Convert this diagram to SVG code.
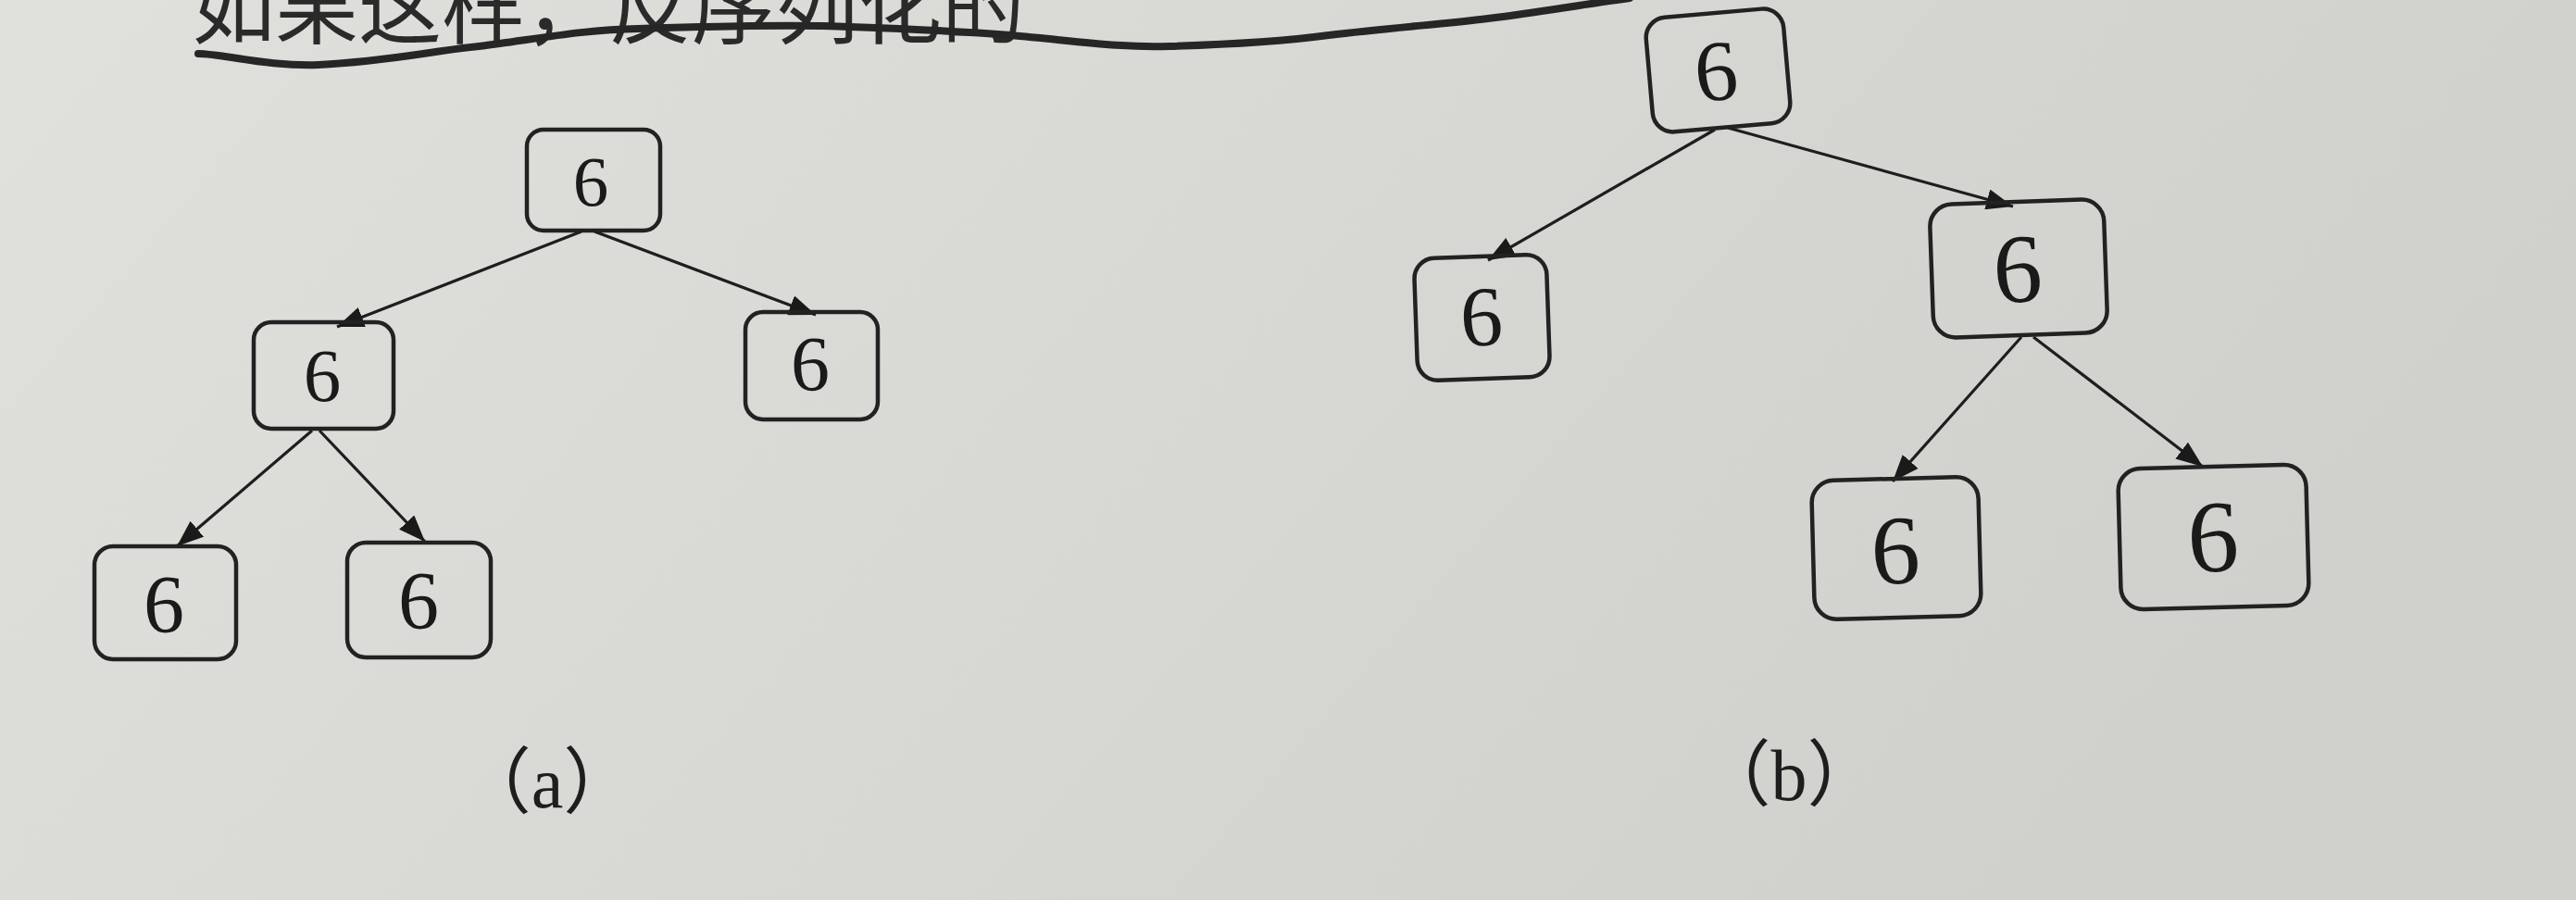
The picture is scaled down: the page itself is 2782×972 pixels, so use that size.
<svg xmlns="http://www.w3.org/2000/svg" width="2782" height="972" viewBox="0 0 2782 972">
  <defs>
    <linearGradient id="paper" x1="0" y1="0" x2="1" y2="0.3">
      <stop offset="0" stop-color="#e0e0dd"/>
      <stop offset="0.5" stop-color="#d8d8d5"/>
      <stop offset="1" stop-color="#d0d0cd"/>
    </linearGradient>
    <marker id="arrow" viewBox="0 0 9 7" refX="9" refY="3.5" markerWidth="9" markerHeight="7" markerUnits="strokeWidth" orient="auto">
      <path d="M0,0 L9,3.5 L0,7 z" fill="#1a1a1a"/>
    </marker>
    <style>
      .box { fill: none; stroke: #222222; stroke-width: 4.5; }
      .num { font-family: "Liberation Serif", "Times New Roman", serif; fill: #1a1a1a; text-anchor: middle; }
      .edge { stroke: #1e1e1e; stroke-width: 3.2; fill: none; marker-end: url(#arrow); }
      .cap { font-family: "Liberation Serif", "Noto Sans CJK SC", serif; fill: #1e1e1e; text-anchor: middle; font-size: 78px; }
      .head { font-family: "Noto Sans CJK SC", sans-serif; fill: #2a2a2a; font-size: 90px; }
    </style>
  </defs>

  <rect x="0" y="0" width="2782" height="972" fill="url(#paper)"/>

  <!-- top line of text, cut by the page edge, and hand-drawn underline -->
  <text class="head" x="207" y="40">如果这样，反序列化的</text>
  <path d="M214,58 C240,58 290,72 344,70 C420,66 460,56 517,50 C580,42 630,32 689,31 C780,28 860,26 918,29 C1000,32 1040,34 1091,38 C1160,44 1210,52 1263,50 C1330,48 1390,44 1435,38 C1500,30 1560,26 1607,20 C1660,14 1700,6 1760,-2" fill="none" stroke="#262626" stroke-width="8" stroke-linecap="round" stroke-linejoin="round"/>

  <g id="connectors">
    <!-- tree (a) -->
    <line class="edge" x1="628" y1="250" x2="364" y2="353"/>
    <line class="edge" x1="642" y1="250" x2="881" y2="340"/>
    <line class="edge" x1="337" y1="465" x2="191" y2="590"/>
    <line class="edge" x1="345" y1="465" x2="459" y2="585"/>
    <!-- tree (b) -->
    <line class="edge" x1="1852" y1="140" x2="1607" y2="281"/>
    <line class="edge" x1="1866" y1="138" x2="2174" y2="223"/>
    <line class="edge" x1="2183" y1="364" x2="2044" y2="520"/>
    <line class="edge" x1="2196" y1="364" x2="2379" y2="504"/>
  </g>

  <!-- tree (a) -->
  <g id="a-root">
    <rect class="box" x="569" y="140" width="144" height="109" rx="18"/>
    <text class="num" x="638" y="222" font-size="77">6</text>
  </g>
  <g id="a-left">
    <rect class="box" x="274" y="348" width="151" height="115" rx="19"/>
    <text class="num" x="348" y="433" font-size="81">6</text>
  </g>
  <g id="a-right">
    <rect class="box" x="805" y="337" width="143" height="116" rx="19"/>
    <text class="num" x="875" y="422" font-size="84">6</text>
  </g>
  <g id="a-left-left">
    <rect class="box" x="102" y="590" width="153" height="122" rx="20"/>
    <text class="num" x="177" y="682" font-size="88">6</text>
  </g>
  <g id="a-left-right">
    <rect class="box" x="375" y="586" width="155" height="124" rx="20"/>
    <text class="num" x="452" y="678" font-size="88">6</text>
  </g>
  <g id="a-caption">
    <text class="cap" x="591" y="872">（a）</text>
  </g>

  <!-- tree (b) -->
  <g id="b-root" transform="rotate(-5 1855 76)">
    <rect class="box" x="1781" y="14" width="149" height="124" rx="22"/>
    <text class="num" x="1853" y="108" font-size="93">6</text>
  </g>
  <g id="b-left" transform="rotate(-2 1600 343)">
    <rect class="box" x="1529" y="277" width="143" height="132" rx="22"/>
    <text class="num" x="1600" y="373" font-size="92">6</text>
  </g>
  <g id="b-right" transform="rotate(-2 2180 290)">
    <rect class="box" x="2086" y="218" width="188" height="144" rx="24"/>
    <text class="num" x="2179" y="326" font-size="106">6</text>
  </g>
  <g id="b-right-left" transform="rotate(-1.5 2048 592)">
    <rect class="box" x="1958" y="517" width="180" height="150" rx="24"/>
    <text class="num" x="2047" y="630" font-size="106">6</text>
  </g>
  <g id="b-right-right" transform="rotate(-1.5 2390 580)">
    <rect class="box" x="2289" y="504" width="203" height="152" rx="24"/>
    <text class="num" x="2390" y="617" font-size="111">6</text>
  </g>
  <g id="b-caption">
    <text class="cap" x="1932" y="864" font-size="80">（b）</text>
  </g>
</svg>
